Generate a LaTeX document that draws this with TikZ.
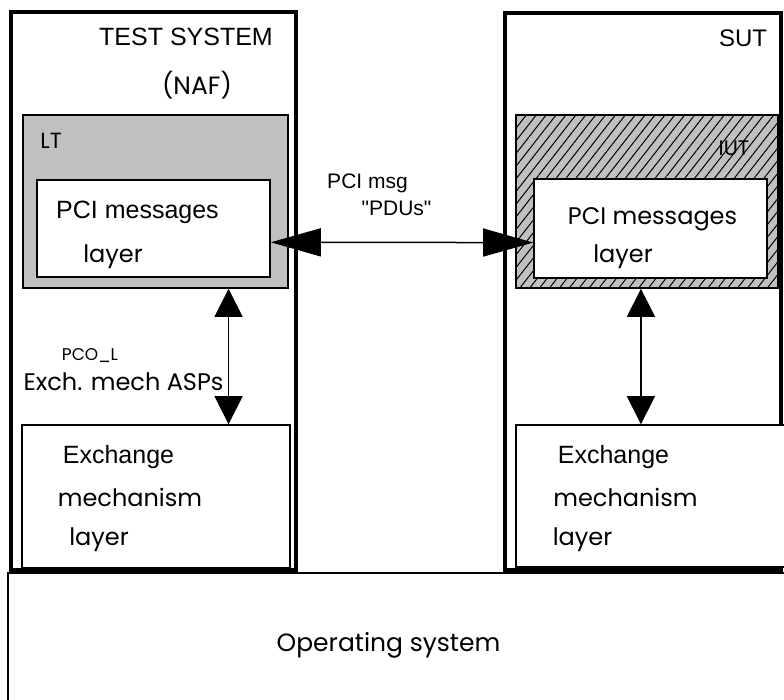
\documentclass[tikz,border=0pt]{standalone}
\usepackage{fontspec}
\setmainfont{Liberation Sans}
\newfontfamily\gothic{Poppins}
\newfontfamily\plainarial[Ligatures=ResetAll]{Liberation Sans}
\usetikzlibrary{arrows.meta,patterns.meta,calc}
\definecolor{ltgray}{RGB}{192,192,192}
\begin{document}
\begin{tikzpicture}[x=1pt,y=-1pt,
  box/.style={draw, line width=1.6pt, inner sep=0pt},
  outerbox/.style={draw, line width=4pt, inner sep=0pt},
  ar/.style={font=\fontsize{#1}{#1}\selectfont, inner sep=0pt},
  gt/.style={font=\gothic\fontsize{#1}{#1}\selectfont, inner sep=0pt},
  harrow/.style={line width=1.5pt, {Triangle[length=50pt,width=28pt]}-{Triangle[length=50pt,width=28pt]}},
  varrow/.style={line width=1.5pt, {Triangle[length=28pt,width=28pt]}-{Triangle[length=28pt,width=28pt]}}]
\useasboundingbox (0,0) rectangle (784,700);
\fill[white] (0,0) rectangle (784,700);
% operating system
\node[box, line width=1.5pt, minimum width=790pt, minimum height=140pt] (os) at (403,643) {};
% outer boxes
\node[outerbox, minimum width=285pt, minimum height=558pt] (ts) at (153.5,291) {};
\node[outerbox, minimum width=276pt, minimum height=557pt] (sut) at (643,291.5) {};
% LT and IUT
\node[box, fill=ltgray, minimum width=265pt, minimum height=173pt] (lt) at (155.5,201.5) {};
\node[box, fill=ltgray, postaction={pattern={Lines[angle=52,distance=7.8pt,line width=1pt]}},
      minimum width=262pt, minimum height=173pt] (iut) at (647,201.5) {};
% PCI message layers
\node[box, fill=white, minimum width=233pt, minimum height=97pt] (pcil) at (153.5,228.5) {};
\node[box, fill=white, minimum width=233pt, minimum height=99pt] (pcir) at (650.5,228.5) {};
% exchange mechanism layers
\node[box, fill=white, minimum width=268pt, minimum height=143pt] (exl) at (156,496.5) {};
\node[box, fill=white, minimum width=274pt, minimum height=142pt] (exr) at (653,496) {};
% texts
\node[ar=25] (tst) at (186,37) {TEST SYSTEM};
\node[gt=25] (naf) at (197,85) {(NAF)};
\node[gt=22] (ltt) at (51,141) {LT};
\node[ar=25] (pcilt) at (137.5,212) {PCI messages};
\node[gt=24] (layl) at (113,257) {layer};
\node[ar=24] (sutt) at (743,38) {SUT};
\node[gt=21] (iutt) at (734,148) {IUT};
\node[gt=24] (pcirt) at (652.5,219) {PCI messages};
\node[gt=24] (layr) at (623,257) {layer};
\node[ar=21] (msg) at (367.5,183) {PCI msg};
\node[ar=21] (pdus) at (396.5,208) {\plainarial "PDUs"};
\node[gt=17] (pco) at (90,356) {PCO\_L};
\node[gt=24] (asps) at (123.5,382) {Exch. mech ASPs};
\node[ar=25] (exlt) at (118.5,457) {Exchange};
\node[gt=24] (meclt) at (130,497) {mechanism};
\node[gt=24] (laylb) at (99,540) {layer};
\node[ar=25] (exrt) at (613.5,457) {Exchange};
\node[gt=24] (mecrt) at (625.5,497) {mechanism};
\node[gt=24] (layrb) at (582.5,540) {layer};
\node[gt=25] (ost) at (388.5,645) {Operating system};
% arrows
\coordinate (hl) at ($(pcil.south east)!0.36!(pcil.north east)$);
\coordinate (hr) at ($(pcir.south west)!0.36!(pcir.north west)$);
\draw[harrow] (hl) -- (hr);
\coordinate (vl) at ($(lt.south west)!0.774!(lt.south east)$);
\draw[varrow] (vl) -- (vl |- exl.north);
\coordinate (vr) at ($(iut.south west)!0.477!(iut.south east)$);
\draw[varrow] (vr) -- (vr |- exr.north);
\end{tikzpicture}
\end{document}
